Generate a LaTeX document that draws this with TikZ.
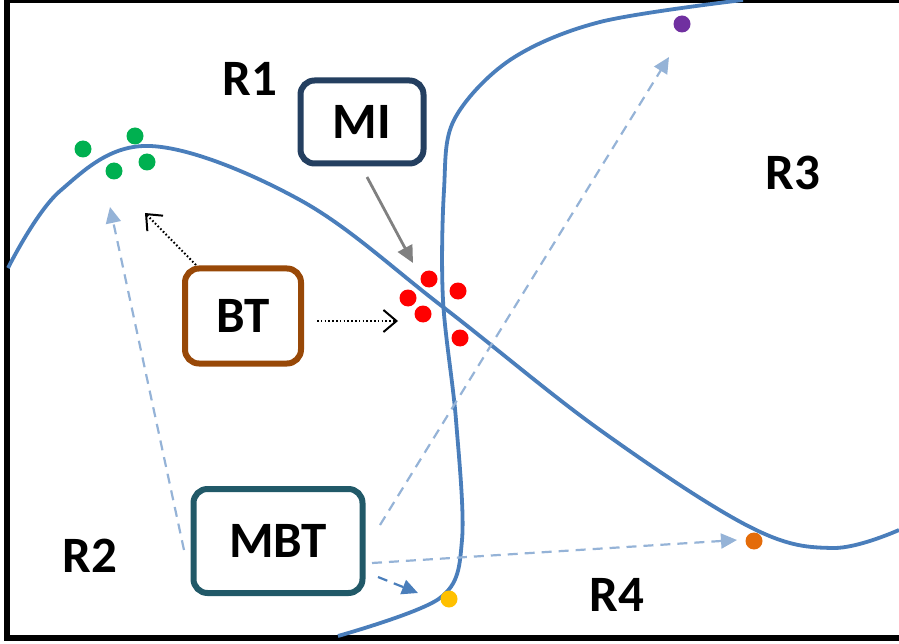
\documentclass[tikz,border=0pt]{standalone}
\usepackage{fontspec}
\setmainfont{Carlito}
\usetikzlibrary{arrows.meta}
\definecolor{curveblue}{HTML}{4A7EBB}
\definecolor{lightblue}{HTML}{95B3D7}
\definecolor{miblue}{HTML}{243F60}
\definecolor{btbrown}{HTML}{984807}
\definecolor{mbtteal}{HTML}{215968}
\definecolor{dotgreen}{HTML}{00B050}
\definecolor{dotpurple}{HTML}{7030A0}
\definecolor{dotorange}{HTML}{E46C0A}
\definecolor{dotyellow}{HTML}{FFC000}
\tikzset{
  bigtext/.style={font=\fontsize{51}{53}\selectfont\bfseries, inner sep=0pt},
  method/.style={draw, line width=6pt, rounded corners=14pt, bigtext, fill=white},
  pt/.style={circle, inner sep=0pt, minimum size=17pt},
  boundary/.style={curveblue, line width=3.8pt},
  lighttip/.style={-{Triangle[length=16pt,width=15pt]}},
  moved/.style={lightblue, line width=2.2pt, dash pattern=on 10pt off 7pt, lighttip},
  pushed/.style={black, line width=2pt, dash pattern=on 1.6pt off 2.2pt,
    -{Straight Barb[length=13pt,width=22pt,line width=2pt]}},
}
\begin{document}
\begin{tikzpicture}[x=1pt,y=-1pt]
\useasboundingbox (0,0) rectangle (899,644);

% frame (open on the right)
\draw[line width=6.5pt] (899,0) -- (7,0) -- (7,638) -- (899,638);

% decision boundaries
\draw[boundary] plot[smooth, tension=0.6] coordinates
  {(8,268) (60,191) (150,146) (300,200) (443,307) (600,430) (750,527) (833,548) (899,530)};
\draw[boundary] plot[smooth, tension=0.55] coordinates
  {(338,636) (440,598) (462,540) (456,420) (443,300) (444,190) (454,120) (510,60) (600,22) (743,0)};

% region labels
\node[bigtext] (r1) at (250,79) {R1};
\node[bigtext] (r2) at (90,556) {R2};
\node[bigtext] (r3) at (793,173) {R3};
\node[bigtext] (r4) at (617,595) {R4};

% samples
\node[pt, fill=dotgreen] (g1) at (83,149) {};
\node[pt, fill=dotgreen] (g2) at (135,136) {};
\node[pt, fill=dotgreen] (g3) at (114,171) {};
\node[pt, fill=dotgreen] (g4) at (147,162) {};
\node[pt, fill=red] (c1) at (429,279) {};
\node[pt, fill=red] (c2) at (458,291) {};
\node[pt, fill=red] (c3) at (408,298) {};
\node[pt, fill=red] (c4) at (423,314) {};
\node[pt, fill=red] (c5) at (460,338) {};
\node[pt, fill=dotpurple] (p1) at (682,24) {};
\node[pt, fill=dotorange] (o1) at (754,541) {};
\node[pt, fill=dotyellow] (y1) at (449,599) {};

% methods
\node[method, draw=miblue, minimum width=123pt, minimum height=83pt] (MI) at (362,122) {MI};
\node[method, draw=btbrown, minimum width=116pt, minimum height=95pt] (BT) at (243,316) {BT};
\node[method, draw=mbtteal, minimum width=169pt, minimum height=104pt] (MBT) at (278,541) {MBT};

% arrow end points
\coordinate (miS) at (367,177);
\coordinate (miT) at (413,263);
\coordinate (btA) at (196,265);
\coordinate (btAT) at (145,213);
\coordinate (btB) at (317,321);
\coordinate (btBT) at (398,321);
\coordinate (mbA) at (184,550);
\coordinate (mbAT) at (110,207);
\coordinate (mbB) at (380,525);
\coordinate (mbBT) at (669,57);
\coordinate (mbC) at (372,563);
\coordinate (mbCT) at (737,540);
\coordinate (mbD) at (378,577);
\coordinate (mbDT) at (418,593);

% MI step
\draw[gray, line width=2.8pt, -{Triangle[length=17pt,width=16pt]}] (miS) -- (miT);
% BT steps
\draw[pushed] (btA) -- (btAT);
\draw[pushed] (btB) -- (btBT);
% MBT steps
\draw[moved] (mbA) -- (mbAT);
\draw[moved] (mbB) -- (mbBT);
\draw[moved] (mbC) -- (mbCT);
\draw[moved, curveblue] (mbD) -- (mbDT);
\end{tikzpicture}
\end{document}
